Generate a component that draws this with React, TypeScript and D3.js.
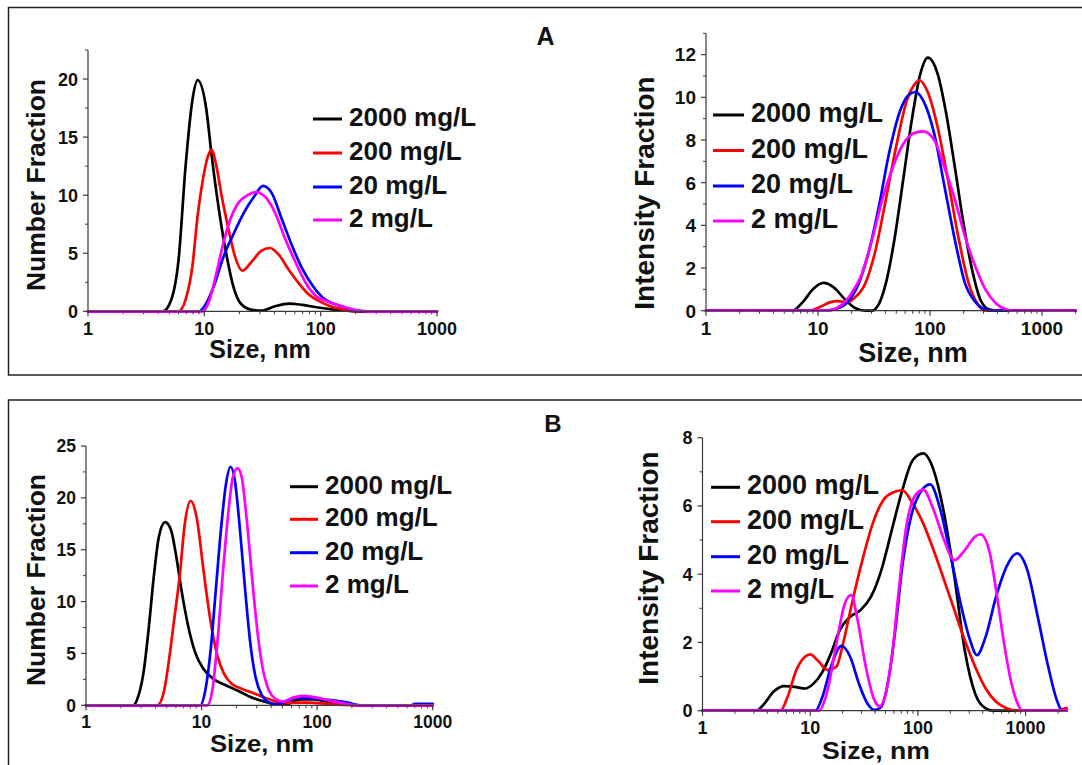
import React from 'react';
import * as d3 from 'd3';

type Pt = [number, number];

// ---------- shared labels / colours ----------
const seriesLabels = ['2000 mg/L', '200 mg/L', '20 mg/L', '2 mg/L'];
const seriesColors = ['#000000', '#ff0000', '#0000ff', '#ff00ff'];
const xMajorTicks = [1, 10, 100, 1000];

// ---------- Panel A, Number Fraction ----------
const numA_2000: Pt[] = [[1,0],[4.4,0],[5.2,1.0],[6.0,4.4],[6.9,12.5],[7.9,18.2],[8.75,19.9],[10.4,17.4],[11.5,13.6],[13.6,8.2],[15.6,4.7],[17.8,2.1],[20.4,0.7],[25,0.15],[31,0.05],[40.5,0.43],[53.4,0.66],[70,0.55],[91.7,0.35],[129,0.15],[170,0.05],[220,0],[1000,0]];
const numA_200: Pt[] = [[1,0],[6.0,0],[6.9,1.0],[7.9,3.9],[8.75,8.2],[9.7,11.3],[10.7,13.3],[11.5,13.9],[12.7,12.5],[14.1,9.9],[16.2,7.0],[18.5,4.6],[21.2,3.5],[25.2,4.2],[30.8,5.2],[36.6,5.45],[43.4,4.9],[53,3.6],[65,2.4],[80,1.4],[98,0.86],[121,0.43],[148,0.2],[182,0.05],[223,0],[1000,0]];
const numA_20: Pt[] = [[1,0],[9.0,0],[10.4,0.7],[12.3,2.4],[14.6,4.7],[17.9,6.7],[21.9,8.5],[26.9,9.9],[31.9,10.8],[37.9,10.2],[46.5,7.9],[57,5.6],[70,3.6],[86,2.15],[105,1.15],[129,0.66],[158,0.37],[194,0.1],[237,0],[1000,0]];
const numA_2: Pt[] = [[1,0],[9.7,0],[11.1,1.0],[12.7,3.3],[14.6,5.9],[16.7,7.9],[19.2,9.2],[23.5,10.0],[27.9,10.27],[33,9.9],[40.5,8.5],[49.7,6.2],[61,4.2],[75,2.4],[91.7,1.3],[113,0.86],[138,0.57],[170,0.29],[207,0.07],[254,0],[1000,0]];
const yTicksNumA = [0, 5, 10, 15, 20];

// ---------- Panel A, Intensity Fraction ----------
const intA_2000: Pt[] = [[1,0],[5.9,0],[7.3,0.4],[9.1,1.03],[11.2,1.3],[13.9,1.08],[17.2,0.56],[21.2,0.14],[26.3,0],[30.3,0],[33.7,0.17],[40.3,1.27],[48,3.3],[57.5,6.1],[68.6,8.9],[82,11.1],[95.6,11.86],[117,11.1],[140,9.2],[167,6.7],[199,4.1],[238,1.9],[284,0.48],[340,0.05],[400,0],[2000,0]];
const intA_200: Pt[] = [[1,0],[8.4,0],[10.4,0.17],[12.9,0.4],[14.9,0.45],[18.4,0.4],[21.2,0.6],[26.3,1.25],[32.5,2.8],[40.3,5.2],[49.9,7.7],[61.7,9.8],[73.6,10.64],[80,10.8],[94.5,10.3],[117,8.6],[145,6.1],[179,3.45],[222,1.27],[265,0.33],[316,0],[2000,0]];
const intA_20: Pt[] = [[1,0],[11.2,0],[14.9,0.1],[18.4,0.4],[22.8,1.2],[28.2,2.7],[34.9,4.86],[43.2,7.4],[53.5,9.3],[64,10.1],[73.6,10.25],[88,9.8],[109,8.3],[135,5.8],[167,3.3],[206,1.27],[255,0.4],[316,0.05],[364,0],[2000,0]];
const intA_2: Pt[] = [[1,0],[12,0],[16,0.25],[19.8,0.8],[24.5,1.7],[30.3,3.3],[37.5,5.2],[46.4,6.7],[57.5,7.8],[71,8.3],[86.7,8.4],[109,8.0],[135,6.7],[167,5.2],[206,3.45],[255,2.05],[316,0.95],[391,0.33],[484,0.05],[558,0],[2000,0]];
const yTicksIntA = [0, 2, 4, 6, 8, 10, 12];

// ---------- Panel B, Number Fraction ----------
const numB_2000: Pt[] = [[1,0],[2.56,0],[2.84,0.9],[3.14,3.1],[3.48,7.3],[3.86,12.4],[4.28,16.3],[4.84,17.66],[5.44,16.9],[6.03,14.4],[6.68,11.2],[7.67,7.6],[8.8,5.1],[10.4,3.5],[12.8,2.5],[15.7,2.0],[20.7,1.4],[27.3,0.74],[35.9,0.32],[44,0.1],[54,0.1],[71,0.58],[94,0.58],[132,0.26],[186,0.06],[245,0],[1000,0]];
const numB_200: Pt[] = [[1,0],[4.14,0],[4.74,1.4],[5.26,4.6],[5.83,8.5],[6.46,12.4],[7.16,17.5],[8.05,19.7],[9.1,18.0],[10.4,13.0],[12.0,8.0],[13.7,4.8],[15.7,3.0],[18.1,2.1],[22.2,1.6],[29.2,1.1],[38.4,0.58],[50.6,0.2],[66.5,0.26],[87.5,0.26],[123,0.13],[174,0.03],[229,0],[1000,0]];
const numB_20: Pt[] = [[1,0],[9.75,0],[10.8,1.5],[12,5.4],[13.3,11.2],[14.7,16.9],[16.3,21.4],[17.8,23.0],[19.4,21.7],[21.5,16.9],[23.8,11.2],[26.4,6.0],[29.2,2.8],[33.5,0.9],[38.4,0.26],[44,0.1],[54,0.42],[71,0.74],[94,0.64],[132,0.51],[186,0.26],[229,0],[650,0],[700,0.15],[1000,0.15]];
const numB_2: Pt[] = [[1,0],[11.2,0],[12.4,1.5],[13.7,6.0],[15.2,12.4],[16.9,18.2],[18.7,22.05],[20.5,22.85],[22.2,22.05],[24.6,17.9],[27.3,12.4],[30.3,7.3],[33.5,3.8],[38.4,1.4],[44,0.58],[50.6,0.35],[62,0.74],[76,0.9],[100,0.74],[132,0.42],[174,0.16],[229,0],[1000,0]];
const yTicksNumB = [0, 5, 10, 15, 20, 25];

// ---------- Panel B, Intensity Fraction ----------
const intB_2000: Pt[] = [[1,0],[3.16,0],[3.67,0.17],[4.58,0.56],[5.73,0.72],[7.16,0.7],[8.95,0.65],[10.8,0.8],[13,1.14],[15.6,1.68],[18.8,2.36],[23.5,2.75],[29.4,2.95],[36.7,3.34],[45.8,4.12],[57.3,5.3],[71.6,6.46],[89.5,7.34],[112,7.54],[140,7.05],[175,5.78],[218,3.93],[272,1.78],[340,0.5],[426,0.07],[494,0],[2400,0]];
const intB_200: Pt[] = [[1,0],[5.3,0],[6.17,0.41],[7.43,1.19],[8.95,1.58],[10,1.65],[12,1.44],[14.5,1.19],[17.5,1.29],[20.2,1.97],[24.4,3.14],[30.5,4.41],[38.1,5.49],[47.6,6.17],[59.4,6.4],[71.6,6.46],[89.5,6.07],[112,5.49],[140,4.7],[175,3.83],[218,2.95],[272,2.07],[340,1.29],[426,0.65],[532,0.26],[665,0.07],[830,0],[1900,0],[2200,0.05],[2400,0.08]];
const intB_20: Pt[] = [[1,0],[11.2,0],[13,0.41],[15.6,1.29],[19.5,1.9],[23.5,1.58],[28.3,0.8],[34,0.21],[39.5,0.02],[45.8,0.12],[53.2,0.9],[61.7,2.36],[71.6,4.22],[86.2,5.68],[104,6.37],[130,6.63],[162,5.88],[202,4.51],[253,3.05],[305,2.07],[353,1.63],[426,2.17],[532,3.34],[665,4.22],[830,4.61],[1038,4.12],[1297,2.75],[1621,1.29],[1950,0.31],[2183,0],[2400,0]];
const intB_2: Pt[] = [[1,0],[12,0],[14.5,0.6],[17.5,1.97],[21,3.14],[24,3.39],[27.2,2.75],[32.8,1.29],[39.5,0.31],[44.2,0.12],[49.4,0.41],[57.3,1.58],[66.5,3.54],[77.1,5.29],[92.9,6.27],[112,6.48],[140,5.88],[175,5.0],[218,4.41],[272,4.7],[340,5.1],[381,5.17],[459,4.7],[532,3.54],[617,2.17],[716,1.0],[830,0.26],[929,0],[2400,0]];
const yTicksIntB = [0, 2, 4, 6, 8];

// ---------- layout ----------
interface PanelCfg {
  series: Pt[][];
  xDomain: [number, number];
  xRange: [number, number];
  yDomain: [number, number];
  yRange: [number, number];
  yTicks: number[];
  yMinorStep: number;
  yTitle: string;
  tickFont: number;
  tickBase: number;
  titleFont: number;
  titleLen?: number;
  yTitleFont: number;
  xTitleX: number;
  xTitleY: number;
  yTitleX: number;
  yTitleY: number;
  legX1: number;
  legX2: number;
  legTextX: number;
  legRows: number[];
  legFont: number;
}

const panels: PanelCfg[] = [
  {
    series: [numA_2000, numA_200, numA_20, numA_2],
    xDomain: [1, 1000], xRange: [88, 437],
    yDomain: [0, 22.5], yRange: [311.3, 50],
    yTicks: yTicksNumA, yMinorStep: 2.5, yTitle: 'Number Fraction',
    tickFont: 18, tickBase: 24, titleFont: 25, yTitleFont: 26.5,
    xTitleX: 260, xTitleY: 358, yTitleX: 45, yTitleY: 185,
    legX1: 313, legX2: 342, legTextX: 349, legRows: [119, 153, 187, 220], legFont: 26,
  },
  {
    series: [intA_2000, intA_200, intA_20, intA_2],
    xDomain: [1, 2000], xRange: [706, 706 + 112 * Math.log10(2000)],
    yDomain: [0, 13], yRange: [310.7, 33.3],
    yTicks: yTicksIntA, yMinorStep: 1, yTitle: 'Intensity Fraction',
    tickFont: 19, tickBase: 24.5, titleFont: 27, yTitleFont: 28,
    xTitleX: 913, xTitleY: 361.5, yTitleX: 654, yTitleY: 193,
    legX1: 713, legX2: 744, legTextX: 751, legRows: [115, 150.5, 186, 221], legFont: 27,
  },
  {
    series: [numB_2000, numB_200, numB_20, numB_2],
    xDomain: [1, 1000], xRange: [86, 432.7],
    yDomain: [0, 25], yRange: [705.3, 446],
    yTicks: yTicksNumB, yMinorStep: 2.5, yTitle: 'Number Fraction',
    tickFont: 17.5, tickBase: 22.5, titleFont: 24, titleLen: 104, yTitleFont: 26.5,
    xTitleX: 262, xTitleY: 752, yTitleX: 45, yTitleY: 580,
    legX1: 290, legX2: 318, legTextX: 325, legRows: [486.7, 519.3, 552.7, 586], legFont: 26,
  },
  {
    series: [intB_2000, intB_200, intB_20, intB_2],
    xDomain: [1, 2400], xRange: [702.5, 702.5 + 107.7 * Math.log10(2400)],
    yDomain: [0, 8], yRange: [710.7, 437.7],
    yTicks: yTicksIntB, yMinorStep: 1, yTitle: 'Intensity Fraction',
    tickFont: 18, tickBase: 23.5, titleFont: 23, titleLen: 108, yTitleFont: 28,
    xTitleX: 876, xTitleY: 758.5, yTitleX: 658, yTitleY: 568,
    legX1: 711, legX2: 740, legTextX: 747, legRows: [487.3, 521.7, 556.7, 591], legFont: 27,
  },
];

const FONT = '"Liberation Sans", Arial, Helvetica, sans-serif';
const AXIS = '#3a3a3a';

function Panel({ cfg }: { cfg: PanelCfg }) {
  const x = d3.scaleLog().domain(cfg.xDomain).range(cfg.xRange);
  const y = d3.scaleLinear().domain(cfg.yDomain).range(cfg.yRange);
  const line = d3.line<Pt>().x(d => x(d[0])).y(d => y(d[1])).curve(d3.curveMonotoneX);
  const y0 = y(0);
  const x0 = x(cfg.xDomain[0]);

  const xMinor: number[] = [];
  for (const dec of xMajorTicks) {
    for (let k = 2; k <= 9; k++) {
      const v = dec * k;
      if (v <= cfg.xDomain[1]) xMinor.push(v);
    }
  }
  const yMinor: number[] = [];
  for (let v = cfg.yMinorStep; v <= cfg.yDomain[1] + 1e-9; v += cfg.yMinorStep) {
    if (!cfg.yTicks.some(t => Math.abs(t - v) < 1e-9)) yMinor.push(v);
  }

  return (
    <g fontFamily={FONT} fontWeight="bold">
      {cfg.series.map((s, i) => (
        <path key={i} d={line(s) || ''} fill="none" stroke={seriesColors[i]} strokeWidth={2.7}
          strokeLinejoin="round" strokeLinecap="round" />
      ))}
      <line x1={x0} x2={cfg.xRange[1]} y1={y0} y2={y0} stroke={AXIS} strokeWidth={1.2} />
      <line x1={x0} x2={x0} y1={y0} y2={cfg.yRange[1]} stroke={AXIS} strokeWidth={1.2} />
      {xMajorTicks.filter(t => t <= cfg.xDomain[1]).map(t => (
        <g key={'xt' + t}>
          <line x1={x(t)} x2={x(t)} y1={y0} y2={y0 + 5} stroke={AXIS} strokeWidth={1.2} />
          <text x={x(t)} y={y0 + cfg.tickBase} textAnchor="middle" fontSize={cfg.tickFont} fill="#111">{t}</text>
        </g>
      ))}
      {xMinor.map(t => (
        <line key={'xm' + t} x1={x(t)} x2={x(t)} y1={y0} y2={y0 + 3} stroke={AXIS} strokeWidth={1} />
      ))}
      {cfg.yTicks.map(t => (
        <g key={'yt' + t}>
          <line x1={x0 - 5} x2={x0} y1={y(t)} y2={y(t)} stroke={AXIS} strokeWidth={1.2} />
          <text x={x0 - 10} y={y(t)} dy="0.36em" textAnchor="end" fontSize={cfg.tickFont} fill="#111">{t}</text>
        </g>
      ))}
      {yMinor.map(t => (
        <line key={'ym' + t} x1={x0 - 3} x2={x0} y1={y(t)} y2={y(t)} stroke={AXIS} strokeWidth={1} />
      ))}
      <text x={cfg.xTitleX} y={cfg.xTitleY} textAnchor="middle" fontSize={cfg.titleFont} fill="#111"
        {...(cfg.titleLen ? { textLength: cfg.titleLen, lengthAdjust: 'spacingAndGlyphs' } : {})}>Size, nm</text>
      <text transform={`translate(${cfg.yTitleX},${cfg.yTitleY}) rotate(-90)`} textAnchor="middle"
        fontSize={cfg.yTitleFont} fill="#111">{cfg.yTitle}</text>
      {seriesLabels.map((lab, i) => (
        <g key={'lg' + i}>
          <line x1={cfg.legX1} x2={cfg.legX2} y1={cfg.legRows[i]} y2={cfg.legRows[i]}
            stroke={seriesColors[i]} strokeWidth={3} />
          <text x={cfg.legTextX} y={cfg.legRows[i] + 7} fontSize={cfg.legFont} fill="#111">{lab}</text>
        </g>
      ))}
    </g>
  );
}

export default function App() {
  return (
    <svg width={1082} height={765} viewBox="0 0 1082 765"
      style={{ position: 'absolute', left: 0, top: 0, background: '#fff' }}>
      <rect x={0} y={0} width={1082} height={765} fill="#ffffff" />
      <rect x={8.5} y={7.5} width={1100} height={367.5} fill="none" stroke="#222" strokeWidth={1.5} />
      <rect x={8.5} y={400} width={1100} height={400} fill="none" stroke="#222" strokeWidth={1.5} />
      <text x={545.5} y={45} textAnchor="middle" fontFamily={FONT} fontWeight="bold" fontSize={25} fill="#111">A</text>
      <text x={553} y={432} textAnchor="middle" fontFamily={FONT} fontWeight="bold" fontSize={24} fill="#111">B</text>
      {panels.map((p, i) => <Panel key={i} cfg={p} />)}
    </svg>
  );
}
